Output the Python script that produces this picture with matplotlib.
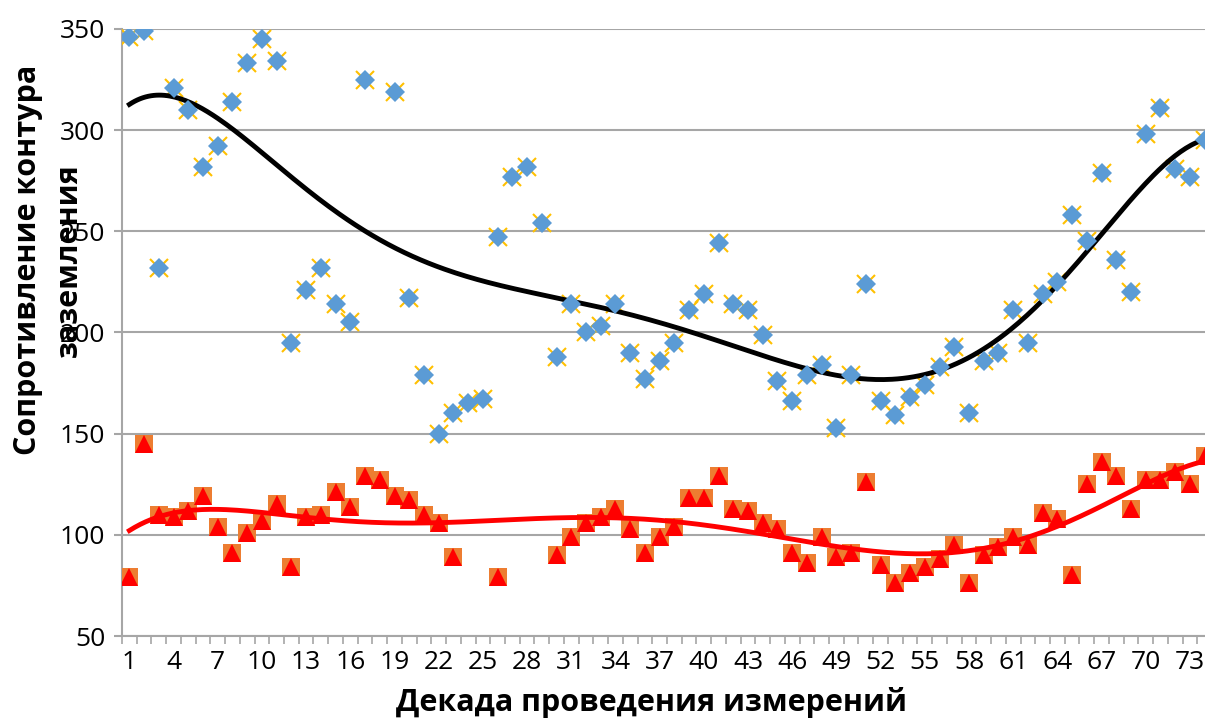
import numpy as np
import matplotlib.pyplot as plt

plt.rcParams['font.family'] = 'Open Sans'

# номера декад
decades = list(range(1, 75))

# сопротивление (синие ромбы); декада 18 выше верхней границы оси (оценка по линии тренда)
blue_vals = [346, 349, 232, 321, 310, 282, 292, 314, 333, 345,
             334, 195, 221, 232, 214, 205, 325, 480, 319, 217,
             179, 150, 160, 165, 167, 247, 277, 282, 254, 188,
             214, 200, 203, 214, 190, 177, 186, 195, 211, 219,
             244, 214, 211, 199, 176, 166, 179, 184, 153, 179,
             224, 166, 159, 168, 174, 183, 193, 160, 186, 190,
             211, 195, 219, 225, 258, 245, 279, 236, 220, 298,
             311, 281, 277, 295]

# сопротивление (красные треугольники), None - нет данных
red_vals = [79, 145, 110, 109, 112, 119, 104, 91, 101, 107,
            115, 84, 109, 110, 121, 114, 129, 127, 119, 117,
            110, 106, 89, None, None, 79, None, None, None, 90,
            99, 106, 109, 113, 103, 91, 99, 104, 118, 118,
            129, 113, 112, 106, 103, 91, 86, 99, 89, 91,
            126, 85, 76, 81, 84, 88, 95, 76, 90, 94,
            99, 95, 111, 108, 80, 125, 136, 129, 113, 127,
            127, 131, 125, 139]

x = np.array(decades, dtype=float)
yb = np.array([np.nan if v is None else v for v in blue_vals], dtype=float)
yr = np.array([np.nan if v is None else v for v in red_vals], dtype=float)


def trend(xv, yv, deg=6):
    # полиномиальная линия тренда 6-й степени, как в Excel
    m = ~np.isnan(yv)
    p = np.polyfit(xv[m], yv[m], deg)
    xs = np.linspace(xv[0], xv[-1], 400)
    return xs, np.polyval(p, xs)


fig = plt.figure(figsize=(12.05, 7.24), dpi=100)
ax = fig.add_axes([122 / 1205, 1 - 636 / 724, 1090 / 1205, 607 / 724])

grid_c = '#a6a6a6'

# синяя серия: ромб поверх золотого крестика
ax.plot(x, yb, linestyle='none', marker='x', markersize=13.5,
        markeredgewidth=1.5, color='#ffc000', zorder=3)
ax.plot(x, yb, linestyle='none', marker='D', markersize=10.5,
        color='#5b9bd5', markeredgewidth=0, zorder=4)
xs, ys = trend(x, yb)
ax.plot(xs, ys, color='black', linewidth=3.5, zorder=3.5)

# красная серия: треугольник поверх оранжевого квадрата
ax.plot(x, yr, linestyle='none', marker='s', markersize=13.5,
        color='#ed7d31', markeredgewidth=0, zorder=3)
ax.plot(x, yr, linestyle='none', marker='^', markersize=13,
        color='#ff0000', markeredgewidth=0, zorder=4)
xs, ys = trend(x, yr)
ax.plot(xs, ys, color='#ff0000', linewidth=3.5, zorder=5)

ax.set_xlim(0.5, 74.5)
ax.set_ylim(50, 350)
ax.set_yticks(range(50, 351, 50))
ax.set_xticks(decades[::3])
ax.set_xticks(np.arange(0.5, 75, 1), minor=True)

ax.grid(axis='y', color=grid_c, linewidth=1.5, zorder=0)
ax.set_axisbelow(True)
for s in ['top', 'right']:
    ax.spines[s].set_visible(False)
ax.spines['left'].set_color(grid_c)
ax.spines['bottom'].set_color(grid_c)
ax.spines['left'].set_linewidth(1.5)
ax.spines['bottom'].set_linewidth(1.5)

ax.tick_params(axis='y', length=6, width=1.5, color=grid_c, labelsize=19, pad=6)
ax.tick_params(axis='x', which='major', length=0, labelsize=19, pad=10)
ax.tick_params(axis='x', which='minor', length=6, width=1.2, color=grid_c)

fig.text(48.5 / 1205, 1 - 260 / 724, 'Сопротивление контура\nзаземления',
         rotation=90, ha='center', va='center', multialignment='center',
         fontsize=22, fontweight='bold', linespacing=1.45, zorder=10)
fig.text(651 / 1205, 1 - 703 / 724, 'Декада проведения измерений',
         ha='center', va='center', fontsize=22, fontweight='bold')

plt.savefig('out.png', dpi=100)
